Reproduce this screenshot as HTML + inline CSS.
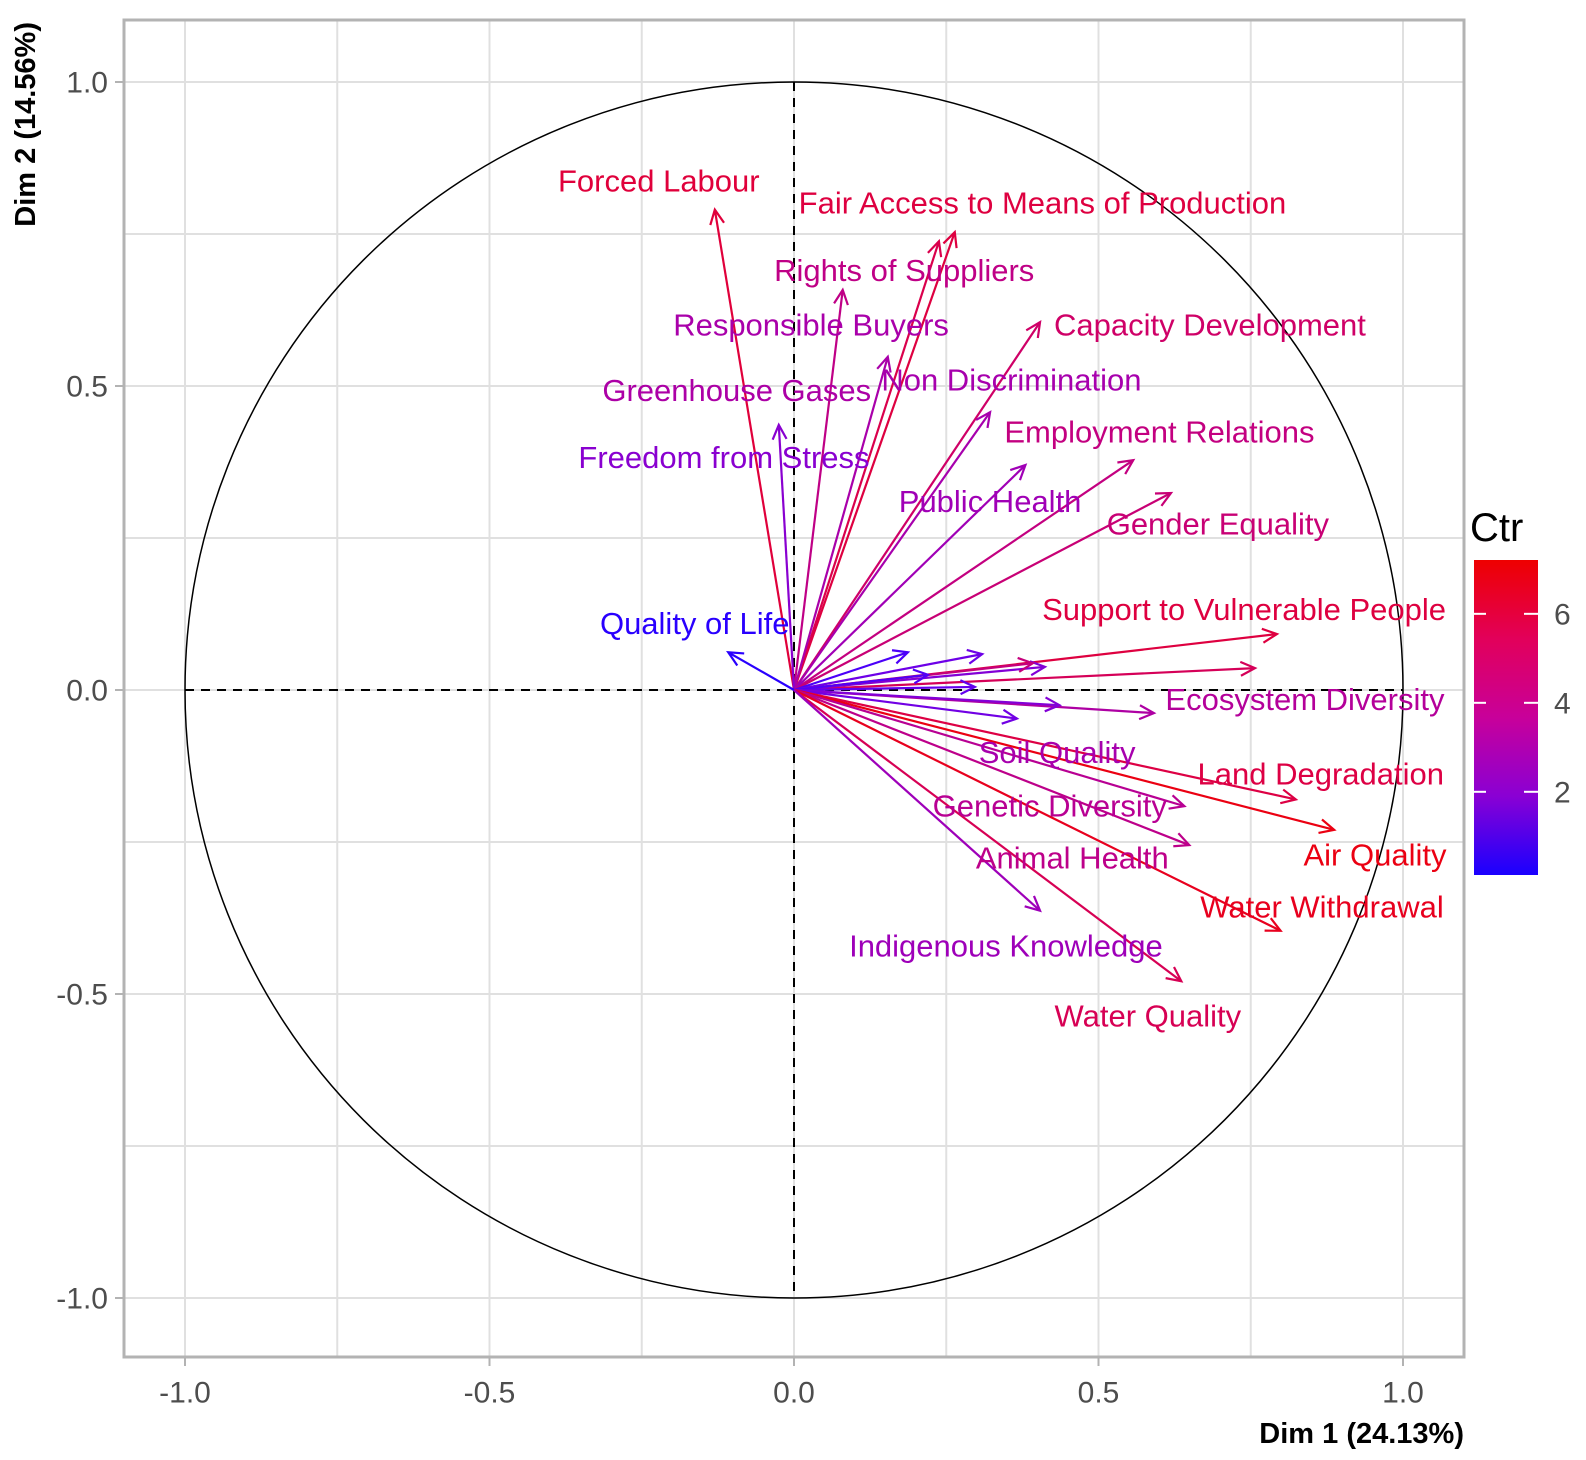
<!DOCTYPE html>
<html><head><meta charset="utf-8">
<style>
html,body{margin:0;padding:0;background:#fff;}
svg{display:block;font-family:"Liberation Sans",Arial,sans-serif;}
</style></head>
<body>
<svg id="chart" width="1586" height="1460" viewBox="0 0 1586 1460" xmlns="http://www.w3.org/2000/svg">
<defs>
<linearGradient id="ctrgrad" x1="0" y1="1" x2="0" y2="0">
<stop offset="0" stop-color="#1a00ff"/>
<stop offset="0.25" stop-color="#8a00d4"/>
<stop offset="0.5" stop-color="#c8009a"/>
<stop offset="0.75" stop-color="#e2005a"/>
<stop offset="1" stop-color="#ee0000"/>
</linearGradient>
</defs>
<g id="grid"></g>
<g id="refs"></g>
<g id="arrows"></g>
<g id="labels"></g>
<g id="axes"></g>
<g id="legend"></g>
</svg>
<script>
// ---- data ----
const arrowX = [-0.13, 0.264, 0.238, 0.08, 0.154, -0.025, 0.404, 0.322, 0.557, 0.38, 0.619, 0.793, 0.757, 0.187, 0.309, 0.412, 0.297, 0.392, 0.22, 0.591, 0.436, 0.366, 0.824, 0.887, 0.641, 0.649, 0.799, 0.636, 0.404, -0.108];
const arrowY = [0.79, 0.753, 0.738, 0.658, 0.548, 0.436, 0.605, 0.457, 0.378, 0.37, 0.324, 0.092, 0.036, 0.062, 0.059, 0.038, 0.005, 0.044, 0.025, -0.038, -0.025, -0.047, -0.18, -0.23, -0.191, -0.255, -0.396, -0.479, -0.363, 0.062];
const arrowCtr = [6.2, 6.1, 5.8, 4.2, 3.1, 1.8, 5.1, 3.0, 4.4, 2.7, 4.7, 6.1, 5.5, 0.4, 1.0, 1.6, 0.8, 4.5, 0.5, 3.3, 1.6, 1.1, 6.0, 7.0, 3.8, 4.1, 6.8, 5.6, 2.6, 0.15];
const labelText = ["Forced Labour","Fair Access to Means of Production","Rights of Suppliers","Responsible Buyers","Capacity Development","Greenhouse Gases","Non Discrimination","Employment Relations","Freedom from Stress","Public Health","Gender Equality","Quality of Life","Support to Vulnerable People","Ecosystem Diversity","Soil Quality","Land Degradation","Genetic Diversity","Air Quality","Animal Health","Water Withdrawal","Indigenous Knowledge","Water Quality"];
const labelX = [-0.222, 0.408, 0.181, 0.028, 0.683, -0.094, 0.357, 0.6, -0.115, 0.322, 0.696, -0.163, 0.739, 0.839, 0.432, 0.865, 0.42, 0.954, 0.457, 0.867, 0.348, 0.581];
const labelY = [0.837, 0.801, 0.69, 0.6, 0.6, 0.493, 0.51, 0.424, 0.382, 0.31, 0.273, 0.109, 0.132, -0.016, -0.103, -0.138, -0.191, -0.271, -0.276, -0.357, -0.421, -0.536];
const labelCtr = [6.2, 6.1, 4.2, 3.1, 5.1, 3.2, 3.0, 4.4, 1.8, 2.7, 4.7, 0.15, 6.1, 3.6, 3.0, 6.0, 3.8, 7.0, 4.1, 6.8, 2.6, 5.6];
const axisTicks = [-1.0, -0.5, 0.0, 0.5, 1.0];
const tickLabels = ["-1.0", "-0.5", "0.0", "0.5", "1.0"];
const minorTicks = [-0.75, -0.25, 0.25, 0.75];
const legendTicks = [2, 4, 6];

// ---- scales ----
const X0 = 794, Y0 = 690, SX = 609, SY = 608;
const px = v => X0 + v * SX;
const py = v => Y0 - v * SY;
const PL = 124, PR = 1464, PT = 20, PB = 1357;
const CMIN = 0.13, CMAX = 7.21;
function ctrColor(v){
  const t = Math.max(0, Math.min(1, (v - CMIN) / (CMAX - CMIN)));
  const r = Math.round(26 + 212 * Math.pow(t, 0.45));
  const b = Math.round(255 * Math.pow(1 - t, 0.75));
  return `rgb(${Math.min(238, r)},0,${b})`;
}
const NS = "http://www.w3.org/2000/svg";
function mk(tag, attrs, parent){
  const e = document.createElementNS(NS, tag);
  for (const k in attrs) e.setAttribute(k, attrs[k]);
  parent.appendChild(e);
  return e;
}
const grid = document.getElementById('grid');
const refs = document.getElementById('refs');
const arrows = document.getElementById('arrows');
const labels = document.getElementById('labels');
const axes = document.getElementById('axes');
const legend = document.getElementById('legend');

minorTicks.concat(axisTicks).forEach(v => {
  const gv = mk('line', {x1: px(v), x2: px(v), y1: PT, y2: PB, stroke: '#e0e0e0', 'stroke-width': 2}, grid);
  
  
  const gh = mk('line', {x1: PL, x2: PR, y1: py(v), y2: py(v), stroke: '#e0e0e0', 'stroke-width': 2}, grid);
  
  
});

const circ = mk('ellipse', {cx: px(0), cy: py(0), rx: SX, ry: SY, fill: 'none', stroke: '#000', 'stroke-width': 1.5}, refs);


const hz = mk('line', {x1: px(-1), x2: px(1), y1: py(0), y2: py(0), stroke: '#000', 'stroke-width': 2, 'stroke-dasharray': '9,7'}, refs);


const vz = mk('line', {x1: px(0), x2: px(0), y1: py(1), y2: py(-1), stroke: '#000', 'stroke-width': 2, 'stroke-dasharray': '9,7'}, refs);



arrowX.forEach((xv, i) => {
  const yv = arrowY[i];
  const c = ctrColor(arrowCtr[i]);
  const x1 = px(0), y1 = py(0), x2 = px(xv), y2 = py(yv);
  const ang = Math.atan2(y2 - y1, x2 - x1);
  const L = 16, a = 0.45;
  const g = mk('g', {}, arrows);
  
  
  mk('line', {x1, y1, x2, y2, stroke: c, 'stroke-width': 2.2}, g);
  const hx1 = x2 - L * Math.cos(ang - a), hy1 = y2 - L * Math.sin(ang - a);
  const hx2 = x2 - L * Math.cos(ang + a), hy2 = y2 - L * Math.sin(ang + a);
  mk('polyline', {points: `${hx1},${hy1} ${x2},${y2} ${hx2},${hy2}`, fill: 'none', stroke: c, 'stroke-width': 2.2}, g);
});

labelText.forEach((t, i) => {
  const e = mk('text', {x: px(labelX[i]), y: py(labelY[i]), 'text-anchor': 'middle', 'dominant-baseline': 'central', 'font-size': 31, fill: ctrColor(labelCtr[i])}, labels);
  
  
  e.textContent = t;
});

const border = mk('rect', {x: PL, y: PT, width: PR - PL, height: PB - PT, fill: 'none', stroke: '#b3b3b3', 'stroke-width': 3}, axes);



axisTicks.forEach((v, i) => {
  const tx = mk('line', {x1: px(v), x2: px(v), y1: PB, y2: PB + 9, stroke: '#b3b3b3', 'stroke-width': 2}, axes);
  
  
  const lx = mk('text', {x: px(v), y: PB + 36, 'text-anchor': 'middle', 'dominant-baseline': 'central', 'font-size': 30, fill: '#4d4d4d'}, axes);
  
  
  lx.textContent = tickLabels[i];
  const ty = mk('line', {x1: PL - 9, x2: PL, y1: py(v), y2: py(v), stroke: '#b3b3b3', 'stroke-width': 2}, axes);
  
  
  const ly = mk('text', {x: PL - 16, y: py(v) + 1, 'text-anchor': 'end', 'dominant-baseline': 'central', 'font-size': 30, fill: '#4d4d4d'}, axes);
  
  
  ly.textContent = tickLabels[i];
});

const xt = mk('text', {x: PR, y: 1434, 'text-anchor': 'end', 'dominant-baseline': 'central', 'font-size': 29, 'font-weight': 'bold', fill: '#000'}, axes);


xt.textContent = 'Dim 1 (24.13%)';
const yt = mk('text', {x: 0, y: 0, 'text-anchor': 'end', 'dominant-baseline': 'central', 'font-size': 29, 'font-weight': 'bold', fill: '#000', transform: `translate(26,${PT + 2}) rotate(-90)`}, axes);


yt.textContent = 'Dim 2 (14.56%)';

const LX = 1474, LW = 64, LT = 560, LB = 875;
const lt = mk('text', {x: 1470, y: 528, 'dominant-baseline': 'central', 'font-size': 40, fill: '#000'}, legend);


lt.textContent = 'Ctr';
const bar = mk('rect', {x: LX, y: LT, width: LW, height: LB - LT, fill: 'url(#ctrgrad)'}, legend);


const ly2 = v => LB - (v - CMIN) / (CMAX - CMIN) * (LB - LT);
legendTicks.forEach(v => {
  const y = ly2(v);
  const t1 = mk('line', {x1: LX, x2: LX + 12, y1: y, y2: y, stroke: '#fff', 'stroke-width': 2}, legend);
  
  
  const t2 = mk('line', {x1: LX + LW - 14, x2: LX + LW, y1: y, y2: y, stroke: '#fff', 'stroke-width': 2}, legend);
  
  
  const tl = mk('text', {x: 1554, y: y + 1, 'dominant-baseline': 'central', 'font-size': 30, fill: '#4d4d4d'}, legend);
  
  
  tl.textContent = String(v);
});
</script>
</body></html>
